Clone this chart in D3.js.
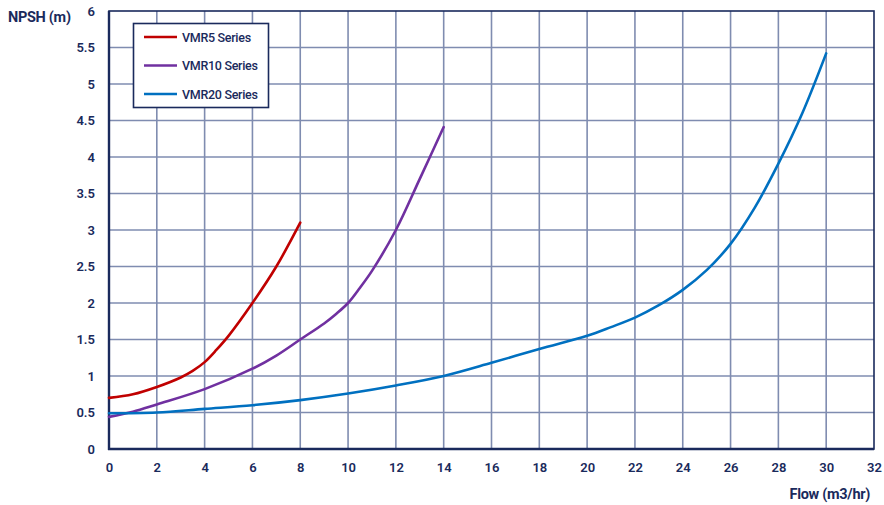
<!DOCTYPE html>
<html><head><meta charset="utf-8">
<script src="https://cdn.jsdelivr.net/npm/d3@7"></script>
<style>
html,body{margin:0;padding:0;background:#fff;}
svg text{font-family:Roboto,"Liberation Sans",sans-serif;fill:#1a2a5c;}
</style></head>
<body><svg id="c" width="884" height="505"></svg>
<script>
const xTicks = [0,2,4,6,8,10,12,14,16,18,20,22,24,26,28,30,32];
const yTicks = [0,0.5,1,1.5,2,2.5,3,3.5,4,4.5,5,5.5,6];
const seriesNames = ["VMR5 Series","VMR10 Series","VMR20 Series"];
const seriesColors = ["#c00000","#7030a0","#0070c0"];
const vmr5X = [0,1,2,3,3.5,4,4.5,5,6,7,8];
const vmr5Y = [0.70,0.75,0.85,0.98,1.07,1.19,1.36,1.55,2.00,2.50,3.10];
const vmr10X = [0,1,2,4,6,7,8,9,9.5,10,10.5,11,12,13,14];
const vmr10Y = [0.44,0.51,0.61,0.82,1.10,1.28,1.50,1.72,1.85,2.00,2.21,2.44,3.00,3.70,4.41];
const vmr20X = [0,2,4,6,8,10,12,14,16,18,20,21,22,23,24,25,26,27,28,29,30];
const vmr20Y = [0.49,0.50,0.55,0.60,0.67,0.76,0.87,1.00,1.18,1.37,1.55,1.67,1.80,1.97,2.18,2.45,2.81,3.30,3.91,4.60,5.42];

const svg = d3.select("#c");
const m = {l:109, r:874, t:11, b:449};
const x = d3.scaleLinear().domain([0,32]).range([m.l,m.r]);
const y = d3.scaleLinear().domain([0,6]).range([m.b,m.t]);

// grid
svg.append("g").selectAll("line").data(xTicks.slice(1,-1)).join("line")
  .attr("x1",d=>x(d)).attr("x2",d=>x(d)).attr("y1",m.t).attr("y2",m.b)
  .attr("stroke","#7f8cb0").attr("stroke-width",1.6);
svg.append("g").selectAll("line").data(yTicks.slice(1,-1)).join("line")
  .attr("y1",d=>y(d)).attr("y2",d=>y(d)).attr("x1",m.l).attr("x2",m.r)
  .attr("stroke","#7f8cb0").attr("stroke-width",1.6);
// frame
svg.append("rect").attr("x",m.l).attr("y",m.t).attr("width",m.r-m.l).attr("height",m.b-m.t)
  .attr("fill","none").attr("stroke","#1a2a5c").attr("stroke-width",1.6);
svg.append("line").attr("x1",m.l).attr("x2",m.l).attr("y1",m.t).attr("y2",m.b+1).attr("stroke","#1a2a5c").attr("stroke-width",2.4);
svg.append("line").attr("x1",m.l-1).attr("x2",m.r).attr("y1",m.b).attr("y2",m.b).attr("stroke","#1a2a5c").attr("stroke-width",2.4);

// axes labels
const xa = svg.append("g").attr("transform",`translate(0,${m.b})`)
  .call(d3.axisBottom(x).tickValues(xTicks).tickSize(0).tickPadding(14).tickFormat(d3.format("d")));
xa.select(".domain").remove();
xa.selectAll("text").attr("font-size",13).attr("font-weight",600).style("font-family","Roboto").style("fill","#1a2a5c");
const ya = svg.append("g").attr("transform",`translate(${m.l},0)`)
  .call(d3.axisLeft(y).tickValues(yTicks).tickSize(0).tickPadding(14).tickFormat(d=>String(d)));
ya.select(".domain").remove();
ya.selectAll("text").attr("font-size",13).attr("font-weight",600).style("font-family","Roboto").style("fill","#1a2a5c");

svg.append("text").attr("x",8).attr("y",22).attr("font-size",14.5).attr("font-weight",700).attr("letter-spacing",-0.3).text("NPSH (m)");
svg.append("text").attr("x",870).attr("y",499).attr("text-anchor","end").attr("font-size",14.5).attr("font-weight",700).attr("letter-spacing",-0.3).text("Flow (m3/hr)");

// lines
const line = d3.line().x(d=>x(d[0])).y(d=>y(d[1])).curve(d3.curveCatmullRom.alpha(0.5));
const data = [d3.zip(vmr5X,vmr5Y), d3.zip(vmr10X,vmr10Y), d3.zip(vmr20X,vmr20Y)];
data.forEach((d,i)=>{
  svg.append("path").datum(d).attr("d",line).attr("fill","none")
    .attr("stroke",seriesColors[i]).attr("stroke-width",2.6).attr("stroke-linecap","round");
});

// legend
const lg = svg.append("g");
lg.append("rect").attr("x",133.5).attr("y",23.5).attr("width",135).attr("height",84)
  .attr("fill","#fff").attr("stroke","#1a2a5c").attr("stroke-width",1.6);
seriesNames.forEach((n,i)=>{
  const yy = 37 + i*28.5;
  lg.append("line").attr("x1",144).attr("x2",177).attr("y1",yy).attr("y2",yy)
    .attr("stroke",seriesColors[i]).attr("stroke-width",2.6);
  lg.append("text").attr("x",182).attr("y",yy+4.5).attr("font-size",12.5).attr("font-weight",500).attr("letter-spacing",-0.3).text(n);
});
</script></body></html>
